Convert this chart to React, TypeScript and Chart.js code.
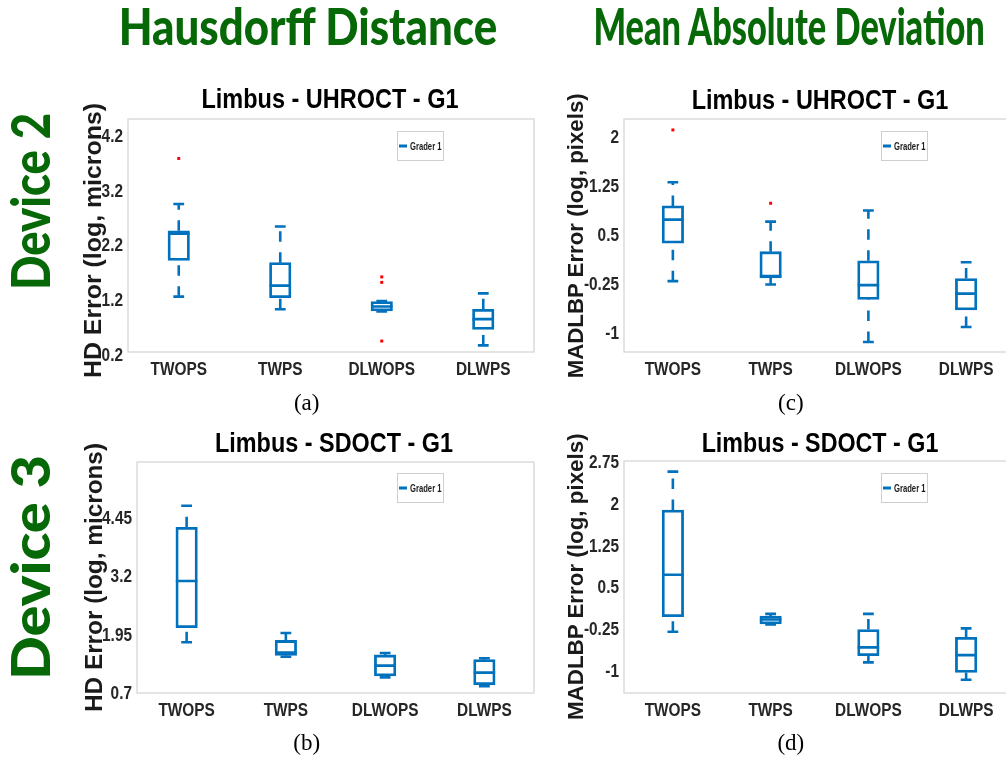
import React, { useEffect, useRef } from 'react';
import { Chart, registerables } from 'chart.js';

Chart.register(...registerables);

const categories = ['TWOPS', 'TWPS', 'DLWOPS', 'DLWPS'];

// (a) Hausdorff Distance - Device 2 (UHROCT)
const hdD2Min = [1.28, 1.05, 1.01, 0.39];
const hdD2Q1 = [1.94, 1.26, 1.02, 0.68];
const hdD2Median = [2.43, 1.48, 1.1, 0.87];
const hdD2Q3 = [2.48, 1.9, 1.19, 1.05];
const hdD2Max = [2.97, 2.56, 1.2, 1.34];
const hdD2OutlierGroup = ['TWOPS', 'DLWOPS', 'DLWOPS', 'DLWOPS'];
const hdD2OutlierValue = [3.8, 1.64, 1.54, 0.47];
const hdD2Ticks = [0.2, 1.2, 2.2, 3.2, 4.2];

// (b) Hausdorff Distance - Device 3 (SDOCT)
const hdD3Min = [1.8, 1.49, 1.05, 0.86];
const hdD3Q1 = [2.11, 1.52, 1.08, 0.89];
const hdD3Median = [3.11, 1.58, 1.3, 1.15];
const hdD3Q3 = [4.26, 1.84, 1.53, 1.43];
const hdD3Max = [4.72, 2.0, 1.57, 1.46];
const hdD3OutlierGroup: string[] = [];
const hdD3OutlierValue: number[] = [];
const hdD3Ticks = [0.7, 1.95, 3.2, 4.45];

// (c) Mean Absolute Deviation - Device 2 (UHROCT)
const madD2Min = [-0.19, -0.24, -1.12, -0.89];
const madD2Q1 = [0.39, -0.14, -0.47, -0.63];
const madD2Median = [0.75, -0.11, -0.25, -0.38];
const madD2Q3 = [0.96, 0.26, 0.12, -0.15];
const madD2Max = [1.32, 0.72, 0.89, 0.1];
const madD2OutlierGroup = ['TWOPS', 'TWPS'];
const madD2OutlierValue = [2.12, 1.0];
const madD2Ticks = [-1, -0.25, 0.5, 1.25, 2];

// (d) Mean Absolute Deviation - Device 3 (SDOCT)
const madD3Min = [-0.28, -0.15, -0.83, -1.14];
const madD3Q1 = [-0.01, -0.14, -0.71, -1.01];
const madD3Median = [0.74, -0.06, -0.56, -0.7];
const madD3Q3 = [1.9, 0.0, -0.24, -0.38];
const madD3Max = [2.59, 0.04, 0.04, -0.22];
const madD3OutlierGroup: string[] = [];
const madD3OutlierValue: number[] = [];
const madD3Ticks = [-1, -0.25, 0.5, 1.25, 2, 2.75];

const BLUE = '#0072BD';
const GREEN = '#066806';
const NARROW = "'Liberation Sans Narrow', 'Arial Narrow', 'Liberation Sans', Arial, sans-serif";
const NARROW_RATIO = 0.81;
const CAP_HALF = 5.4;

type PanelProps = {
  left: number; top: number; w: number; h: number;
  yAxisW: number; xAxisH: number; padTop: number; padRight: number;
  yMin: number; yMax: number; yTicks: number[];
  min: number[]; q1: number[]; median: number[]; q3: number[]; max: number[];
  outGroup: string[]; outValue: number[];
};

// condense canvas text horizontally (narrow bold face, like the original figure)
const narrowText = {
  id: 'narrowText',
  beforeDraw(chart: any) {
    const ctx: any = chart.ctx;
    if (ctx.__narrow) return;
    const orig = ctx.fillText;
    ctx.fillText = function (text: string, x: number, y: number, maxWidth?: number) {
      const w = this.measureText(text).width * NARROW_RATIO;
      const mw = maxWidth !== undefined ? Math.min(maxWidth, w) : w;
      return orig.call(this, text, x, y, mw);
    };
    ctx.__narrow = true;
  },
};

function BoxPanel(p: PanelProps) {
  const ref = useRef<HTMLCanvasElement>(null);
  useEffect(() => {
    const canvas = ref.current!;
    const frame = {
      id: 'frame',
      beforeDatasetsDraw(chart: any) {
        const { ctx, chartArea: a } = chart;
        ctx.save();
        ctx.strokeStyle = '#d2d2d2';
        ctx.lineWidth = 1.2;
        ctx.strokeRect(a.left, a.top, a.right - a.left, a.bottom - a.top);
        ctx.restore();
      },
    };
    const whiskers = {
      id: 'whiskers',
      afterDatasetsDraw(chart: any) {
        const { ctx } = chart;
        const xs = chart.scales.x;
        const ys = chart.scales.y;
        const meta = chart.getDatasetMeta(0);
        ctx.save();
        ctx.strokeStyle = BLUE;
        ctx.lineWidth = 2.6;
        ctx.lineCap = 'butt';
        categories.forEach((_, i) => {
          const px = xs.getPixelForValue(i);
          const pMin = ys.getPixelForValue(p.min[i]);
          const pQ1 = ys.getPixelForValue(p.q1[i]);
          const pMed = ys.getPixelForValue(p.median[i]);
          const pQ3 = ys.getPixelForValue(p.q3[i]);
          const pMax = ys.getPixelForValue(p.max[i]);
          ctx.setLineDash([10.5, 10.5]);
          ctx.beginPath();
          ctx.moveTo(px, pMin);
          ctx.lineTo(px, pQ1);
          ctx.stroke();
          ctx.beginPath();
          ctx.moveTo(px, pQ3);
          ctx.lineTo(px, pMax);
          ctx.stroke();
          ctx.setLineDash([]);
          ctx.beginPath();
          ctx.moveTo(px - CAP_HALF, pMin);
          ctx.lineTo(px + CAP_HALF, pMin);
          ctx.moveTo(px - CAP_HALF, pMax);
          ctx.lineTo(px + CAP_HALF, pMax);
          const bar: any = meta.data[i];
          const half = bar.width / 2;
          ctx.moveTo(bar.x - half, pMed);
          ctx.lineTo(bar.x + half, pMed);
          ctx.stroke();
        });
        ctx.restore();
      },
    };
    const tickFont = { family: NARROW, size: 19, weight: 'bold' as const };
    const chart = new Chart(canvas, {
      type: 'bar',
      data: {
        labels: categories,
        datasets: [
          {
            type: 'bar',
            data: p.q1.map((v, i) => [v, p.q3[i]]) as any,
            backgroundColor: '#ffffff',
            borderColor: BLUE,
            borderWidth: 2.8,
            borderSkipped: false,
            barThickness: 21.5,
            order: 2,
          } as any,
          {
            type: 'scatter',
            data: p.outGroup.map((g, i) => ({ x: g, y: p.outValue[i] })) as any,
            pointStyle: 'rect',
            pointRadius: 2.1,
            pointBorderWidth: 0,
            backgroundColor: '#ff0000',
            borderColor: '#ff0000',
            order: 1,
          } as any,
        ],
      },
      options: {
        responsive: false,
        animation: false,
        events: [],
        layout: { padding: { top: p.padTop, right: p.padRight, left: 0, bottom: 0 } },
        plugins: { legend: { display: false }, tooltip: { enabled: false }, title: { display: false } },
        scales: {
          x: {
            type: 'category',
            offset: true,
            grid: { display: false, drawTicks: false },
            border: { display: false },
            ticks: { font: tickFont, color: '#262626', padding: 6, maxRotation: 0, autoSkip: false },
            afterFit: (s: any) => {
              s.height = p.xAxisH;
              s.paddingLeft = 0;
              s.paddingRight = 0;
            },
          },
          y: {
            type: 'linear',
            min: p.yMin,
            max: p.yMax,
            grid: { display: false, drawTicks: false },
            border: { display: false },
            ticks: { font: tickFont, color: '#262626', padding: 5, callback: (v: any) => String(v) },
            afterBuildTicks: (s: any) => { s.ticks = p.yTicks.map((v) => ({ value: v })); },
            afterFit: (s: any) => {
              s.width = p.yAxisW;
              s.paddingTop = 0;
              s.paddingBottom = 0;
            },
          },
        },
      } as any,
      plugins: [narrowText, frame, whiskers],
    });
    return () => chart.destroy();
  }, []);
  return (
    <canvas
      ref={ref}
      width={p.w}
      height={p.h}
      style={{ position: 'absolute', left: p.left, top: p.top, width: p.w, height: p.h }}
    />
  );
}

function Legend({ x, y }: { x: number; y: number }) {
  return (
    <g>
      <rect x={x + 0.5} y={y + 0.5} width={46} height={29} fill="#ffffff" stroke="#cfcfcf" strokeWidth={1} />
      <line x1={x + 2} y1={y + 15} x2={x + 10} y2={y + 15} stroke={BLUE} strokeWidth={3} />
      <text x={x + 13} y={y + 18.6} fontFamily={NARROW} fontWeight="bold" fontSize={10.5} fill="#1a1a1a"
        textLength={31.5} lengthAdjust="spacingAndGlyphs">Grader 1</text>
    </g>
  );
}

function VText({ x, y, len, size, family, color, weight, children }: any) {
  return (
    <text transform={`translate(${x},${y}) rotate(-90)`} textAnchor="middle" fontFamily={family}
      fontWeight={weight || 'bold'} fontSize={size} fill={color} textLength={len} lengthAdjust="spacingAndGlyphs">
      {children}
    </text>
  );
}

function Title({ x, y, len, children }: any) {
  return (
    <text x={x} y={y} textAnchor="middle" fontFamily={NARROW} fontWeight="bold" fontSize={28}
      fill="#000000" textLength={len} lengthAdjust="spacingAndGlyphs">{children}</text>
  );
}

function Caption({ x, y, children }: any) {
  return (
    <text x={x} y={y} textAnchor="middle" fontFamily="'Liberation Serif', 'Times New Roman', serif"
      fontSize={23} fill="#000000">{children}</text>
  );
}

export default function App() {
  const HEAD = "Lato, 'Open Sans', sans-serif";
  const AXT = "'Liberation Sans', Arial, sans-serif";
  return (
    <div style={{ position: 'fixed', left: 0, top: 0, width: 1006, height: 763, overflow: 'hidden', background: '#ffffff' }}>
      <BoxPanel left={80} top={112} w={465} h={280} yAxisW={48} xAxisH={40} padTop={7} padRight={11}
        yMin={0.27} yMax={4.52} yTicks={hdD2Ticks}
        min={hdD2Min} q1={hdD2Q1} median={hdD2Median} q3={hdD2Q3} max={hdD2Max}
        outGroup={hdD2OutlierGroup} outValue={hdD2OutlierValue} />
      <BoxPanel left={85} top={455} w={460} h={275} yAxisW={52} xAxisH={37} padTop={7} padRight={11}
        yMin={0.715} yMax={5.657} yTicks={hdD3Ticks}
        min={hdD3Min} q1={hdD3Q1} median={hdD3Median} q3={hdD3Q3} max={hdD3Max}
        outGroup={hdD3OutlierGroup} outValue={hdD3OutlierValue} />
      <BoxPanel left={580} top={112} w={440} h={280} yAxisW={44} xAxisH={40} padTop={7} padRight={5}
        yMin={-1.272} yMax={2.287} yTicks={madD2Ticks}
        min={madD2Min} q1={madD2Q1} median={madD2Median} q3={madD2Q3} max={madD2Max}
        outGroup={madD2OutlierGroup} outValue={madD2OutlierValue} />
      <BoxPanel left={580} top={455} w={440} h={275} yAxisW={44} xAxisH={37} padTop={6} padRight={5}
        yMin={-1.378} yMax={2.78} yTicks={madD3Ticks}
        min={madD3Min} q1={madD3Q1} median={madD3Median} q3={madD3Q3} max={madD3Max}
        outGroup={madD3OutlierGroup} outValue={madD3OutlierValue} />
      <svg width={1006} height={763} style={{ position: 'absolute', left: 0, top: 0, pointerEvents: 'none' }}>
        <text x={307.9} y={45} textAnchor="middle" fontFamily={HEAD} fontWeight={900} fontSize={51} fill={GREEN}
          textLength={378.5} lengthAdjust="spacingAndGlyphs">Hausdorff Distance</text>
        <text x={789.1} y={45} textAnchor="middle" fontFamily={HEAD} fontWeight={900} fontSize={51} fill={GREEN}
          textLength={391.4} lengthAdjust="spacingAndGlyphs">Mean Absolute Deviation</text>
        <VText x={50} y={201.5} len={177} size={54} family={HEAD} color={GREEN} weight={900}>Device 2</VText>
        <VText x={50} y={567.5} len={225} size={54} family={HEAD} color={GREEN} weight={900}>Device 3</VText>

        <Title x={330} y={108.3} len={257}>Limbus - UHROCT - G1</Title>
        <Title x={820} y={109.3} len={256.7}>Limbus - UHROCT - G1</Title>
        <Title x={334} y={451.7} len={238}>Limbus - SDOCT - G1</Title>
        <Title x={820} y={451.7} len={236.7}>Limbus - SDOCT - G1</Title>

        <VText x={100.7} y={240.5} len={275} size={24} family={AXT} color="#1a1a1a">HD Error (log, microns)</VText>
        <VText x={101.7} y={577.5} len={269} size={24} family={AXT} color="#1a1a1a">HD Error (log, microns)</VText>
        <VText x={583.3} y={235.8} len={285} size={22.3} family={AXT} color="#1a1a1a">MADLBP Error (log, pixels)</VText>
        <VText x={583.3} y={576.7} len={286.7} size={22.3} family={AXT} color="#1a1a1a">MADLBP Error (log, pixels)</VText>

        <Legend x={397} y={131} />
        <Legend x={881} y={131} />
        <Legend x={397} y={473} />
        <Legend x={881} y={473} />

        <Caption x={306.7} y={410}>(a)</Caption>
        <Caption x={790.8} y={410}>(c)</Caption>
        <Caption x={306.7} y={750}>(b)</Caption>
        <Caption x={790.8} y={750}>(d)</Caption>
      </svg>
    </div>
  );
}
